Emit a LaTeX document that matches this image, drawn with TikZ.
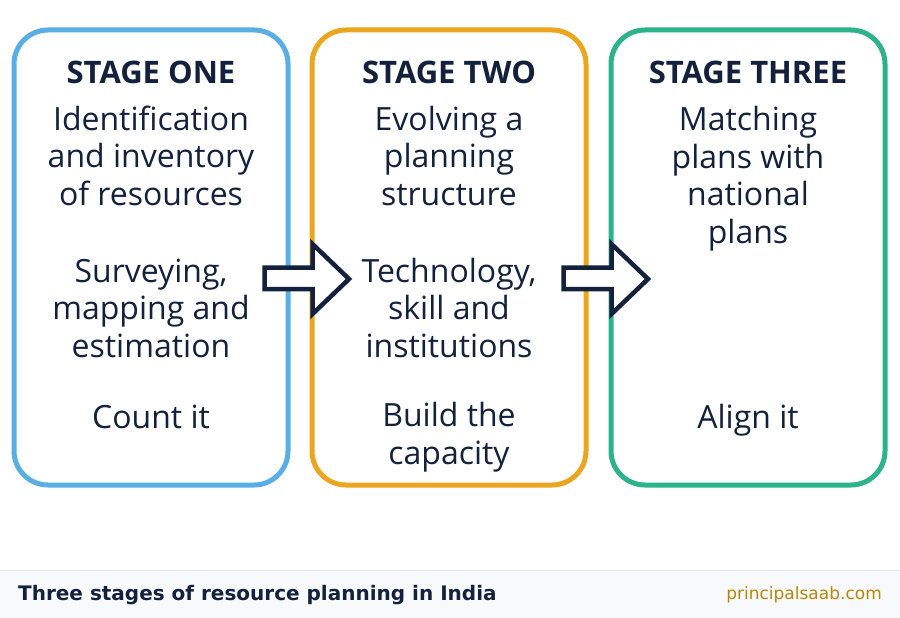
\documentclass[tikz,border=0pt]{standalone}
\usepackage{fontspec}
\setmainfont{Open Sans}
\newfontfamily\footfont{DejaVu Sans}
\usetikzlibrary{positioning}
\definecolor{inkblue}{HTML}{14213D}
\definecolor{stageone}{HTML}{5AAEE6}
\definecolor{stagetwo}{HTML}{EBA51E}
\definecolor{stagethree}{HTML}{2DB38C}
\definecolor{footbg}{HTML}{F7F9FB}
\definecolor{footline}{HTML}{E3E6EA}
\definecolor{sitecol}{HTML}{B8860B}

\begin{document}
\begin{tikzpicture}[x=1pt,y=-1pt]
    % styles
    \tikzset{
      stagebox/.style   = {draw, line width=5pt, rounded corners=34pt, minimum width=274pt, minimum height=455pt, inner sep=0pt},
      title/.style      = {font=\fontsize{31}{36}\selectfont\bfseries, text=inkblue, anchor=base},
      body/.style       = {font=\fontsize{32}{37.5}\selectfont, text=inkblue, anchor=base, align=center},
      blockarrow/.style = {draw=inkblue, fill=white, line width=4.5pt, line join=miter}
    }
    \useasboundingbox (0,0) rectangle (900,618);
    \fill[white] (0,0) rectangle (900,618);

    % Stage boxes:
    \node[stagebox, draw=stageone]   (one)   at (151,257.5) {};
    \node[stagebox, draw=stagetwo]   (two)   at (449,257.5) {};
    \node[stagebox, draw=stagethree] (three) at (748,257.5) {};

    % Stage one (nodes sit on the baseline of their last line):
    \node[title] (onetitle) at (151,84) {STAGE ONE};
    \node[body] (oneaim)  at (151,205) {Identification\\and inventory\\of resources};
    \node[body] (onework) at (151,357) {Surveying,\\mapping and\\estimation};
    \node[body] (onegoal) at (151,428) {Count it};

    % Stage two:
    \node[title] (twotitle) at (449,84) {STAGE TWO};
    \node[body] (twoaim)  at (449,205) {Evolving a\\planning\\structure};
    \node[body] (twowork) at (449,357) {Technology,\\skill and\\institutions};
    \node[body] (twogoal) at (449,464) {Build the\\capacity};

    % Stage three:
    \node[title] (threetitle) at (748,84) {STAGE THREE};
    \node[body] (threeaim)  at (748,243) {Matching\\plans with\\national\\plans};
    \node[body] (threegoal) at (748,428) {Align it};

    % Arrows:
    \draw[blockarrow] (264.5,267.5) -- (312.5,267.5) -- (312.5,244) -- (349,279)
      -- (312.5,314) -- (312.5,289) -- (264.5,289) -- cycle;
    \draw[blockarrow, xshift=299pt] (264.5,267.5) -- (312.5,267.5) -- (312.5,244) -- (349,279)
      -- (312.5,314) -- (312.5,289) -- (264.5,289) -- cycle;

    % Footer:
    \fill[footbg] (0,570) rectangle (900,618);
    \draw[footline, line width=1pt] (0,570.5) -- (900,570.5);
    \node[anchor=west, inner sep=0pt, font=\footfont\fontsize{20}{22}\selectfont\bfseries, text=inkblue]
      (caption) at (18,595) {Three stages of resource planning in India};
    \node[anchor=east, inner sep=0pt, font=\footfont\fontsize{17}{20}\selectfont, text=sitecol]
      (site) at (882,595) {principalsaab.com};
  \end{tikzpicture}
\end{document}
